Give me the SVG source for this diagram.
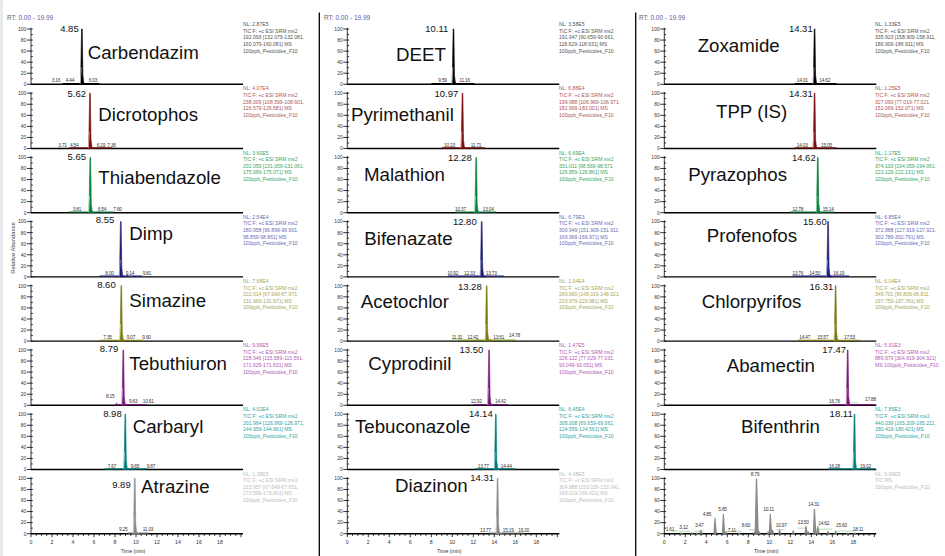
<svg xmlns="http://www.w3.org/2000/svg" xmlns:xlink="http://www.w3.org/1999/xlink" width="945" height="556" viewBox="0 0 945 556">
<style>
text{font-family:"Liberation Sans",Arial,Helvetica,sans-serif}
.ax{stroke:#000;stroke-width:0.8;fill:none}
.base{stroke:#000;stroke-width:1.4;fill:none}
.yl{font-size:5px;fill:#333;text-anchor:end}
.xl{font-size:5.2px;fill:#333;text-anchor:middle}
.nm{font-size:18.7px;fill:#111}
.pl{font-size:9.5px;fill:#111;text-anchor:end}
.sl{font-size:4.8px;fill:#333;letter-spacing:-0.2px}
.nl{font-size:5.1px}
.rt{font-size:6.5px;fill:#666}
.rt tspan{fill:#5a5aa8}
.tr{fill:none;stroke-width:1.2}
.pk{stroke-width:0.6;stroke-linejoin:round}
.pkh{fill:none;stroke-width:0.8}
.ig{stroke:#8fd08f;stroke-width:0.7;fill:none}
.sep{stroke:#000;stroke-width:1.3}
.r1 .pk,.r1 .bp{fill:#000;stroke:#000}.r1 .tr{stroke:#000}.r1 .pkh{stroke:#bdbdbd}.r1 .nl{fill:#555}
.r2 .pk,.r2 .bp{fill:#7a0e0e;stroke:#7a0e0e}.r2 .tr{stroke:#7a0e0e}.r2 .pkh{stroke:#dca3a3}.r2 .nl{fill:#b05656}
.r3 .pk,.r3 .bp{fill:#05803c;stroke:#05803c}.r3 .tr{stroke:#05803c}.r3 .pkh{stroke:#9fd6b1}.r3 .nl{fill:#3aa564}
.r4 .pk,.r4 .bp{fill:#1e1e78;stroke:#1e1e78}.r4 .tr{stroke:#1e1e78}.r4 .pkh{stroke:#a7a7d6}.r4 .nl{fill:#6b6bb8}
.r5 .pk,.r5 .bp{fill:#7b7912;stroke:#7b7912}.r5 .tr{stroke:#7b7912}.r5 .pkh{stroke:#d2d09a}.r5 .nl{fill:#a9a758}
.r6 .pk,.r6 .bp{fill:#7b1a7b;stroke:#7b1a7b}.r6 .tr{stroke:#7b1a7b}.r6 .pkh{stroke:#d7a2d7}.r6 .nl{fill:#b557b5}
.r7 .pk,.r7 .bp{fill:#007d7a;stroke:#007d7a}.r7 .tr{stroke:#007d7a}.r7 .pkh{stroke:#94d1cf}.r7 .nl{fill:#35a3a3}
.r8 .pk,.r8 .bp{fill:#8a8a8a;stroke:#8a8a8a}.r8 .tr{stroke:#8a8a8a}.r8 .pkh{stroke:#d0d0d0}.r8 .nl{fill:#bcbcbc}
.bp{stroke-width:0.4}
</style>
<defs>
<g id="yax">
<path class="ax" d="M0,-56.5V0M-4,0H1.8M-4,-11.06H1.8M-4,-22.12H1.8M-4,-33.18H1.8M-4,-44.24H1.8M-4,-55.3H1.8M0,-5.53h1.8M0,-16.59h1.8M0,-27.65h1.8M0,-38.71h1.8M0,-49.77h1.8"/>
<text class="yl" x="-4.6" y="1.8">0</text>
<text class="yl" x="-4.6" y="-9.3">20</text>
<text class="yl" x="-4.6" y="-20.3">40</text>
<text class="yl" x="-4.6" y="-31.4">60</text>
<text class="yl" x="-4.6" y="-42.4">80</text>
<text class="yl" x="-4.6" y="-53.5">100</text>
</g>
<g id="xax">
<path class="ax" d="M0,0v3.5M21,0v3.5M42,0v3.5M63,0v3.5M84,0v3.5M105,0v3.5M126,0v3.5M147,0v3.5M168,0v3.5M189,0v3.5M210,0v3.5M5.25,0v2.2M10.5,0v2.2M15.75,0v2.2M26.25,0v2.2M31.5,0v2.2M36.75,0v2.2M47.25,0v2.2M52.5,0v2.2M57.75,0v2.2M68.25,0v2.2M73.5,0v2.2M78.75,0v2.2M89.25,0v2.2M94.5,0v2.2M99.75,0v2.2M110.25,0v2.2M115.5,0v2.2M120.75,0v2.2M131.25,0v2.2M136.5,0v2.2M141.75,0v2.2M152.25,0v2.2M157.5,0v2.2M162.75,0v2.2M173.25,0v2.2M178.5,0v2.2M183.75,0v2.2M194.25,0v2.2M199.5,0v2.2M204.75,0v2.2"/>
<text class="xl" x="0" y="10.8">0</text><text class="xl" x="21" y="10.8">2</text><text class="xl" x="42" y="10.8">4</text><text class="xl" x="63" y="10.8">6</text><text class="xl" x="84" y="10.8">8</text><text class="xl" x="105" y="10.8">10</text><text class="xl" x="126" y="10.8">12</text><text class="xl" x="147" y="10.8">14</text><text class="xl" x="168" y="10.8">16</text><text class="xl" x="189" y="10.8">18</text>
<text class="xl" x="102" y="19.4">Time (min)</text>
</g>
<path id="pk" d="M-1.3,0L-0.35,-55.3L0.35,-55.3L1,-9L1.8,-2L3,-0.4L4,0Z"/>
<path id="pkh" d="M-1.7,-0.5L-0.7,-17"/>
</defs>

<rect x="0" y="0" width="3" height="556" fill="#e8eaee"/>
<g id="separators">
<line class="sep" x1="319.3" y1="12.5" x2="319.3" y2="556"/>
<line class="sep" x1="635.7" y1="12.5" x2="635.7" y2="556"/>
</g>
<text class="rt" x="7" y="19.5">RT: <tspan>0.00 - 19.99</tspan></text>
<text class="rt" x="324" y="19.5">RT: <tspan>0.00 - 19.99</tspan></text>
<text class="rt" x="639" y="19.5">RT: <tspan>0.00 - 19.99</tspan></text>
<text transform="translate(14.5,248) rotate(-90)" text-anchor="middle" font-size="5.8" fill="#444">Relative Abundance</text>

<!-- Column 1 -->
<g id="carbendazim" class="r1" transform="translate(31,84.3)">
<use href="#yax"/><path class="base" d="M0,0H212"/><path class="tr" d="M31.5,-0.7H68.3"/>
<use class="pk" href="#pk" x="50.9"/><use class="pkh" href="#pkh" x="50.9"/>
<text class="pl" x="47.7" y="-52">4.85</text><text class="nm" x="56.7" y="-25">Carbendazim</text>
<text class="sl" y="-2"><tspan x="20.7">3.16</tspan><tspan x="34.7">4.44</tspan><tspan x="57.7">6.03</tspan></text>
<text class="nl" y="-58.2"><tspan x="212">NL: 2.87E5</tspan><tspan x="212" dy="6.6">TIC F: +c ESI SRM ms2</tspan><tspan x="212" dy="6.6">192.093 [132.079-132.081,</tspan><tspan x="212" dy="6.6">160.079-160.081] MS</tspan><tspan x="212" dy="6.6">100ppb_Pesticides_F10</tspan></text>
</g>
<g id="dicrotophos" class="r2" transform="translate(31,148.5)">
<use href="#yax"/><path class="base" d="M0,0H212"/><path class="tr" d="M37.8,-0.7H80.9"/>
<use class="pk" href="#pk" x="59"/><use class="pkh" href="#pkh" x="59"/>
<text class="pl" x="55" y="-52">5.62</text><text class="nm" x="67.3" y="-27.8">Dicrotophos</text>
<text class="sl" y="-2"><tspan x="27.3">3.71</tspan><tspan x="39">4.54</tspan><tspan x="65.7">6.19</tspan><tspan x="76.3">7.36</tspan></text>
<text class="nl" y="-58.2"><tspan x="212">NL: 4.07E4</tspan><tspan x="212" dy="6.6">TIC F: +c ESI SRM ms2</tspan><tspan x="212" dy="6.6">238.009 [108.599-108.601,</tspan><tspan x="212" dy="6.6">126.579-126.581] MS</tspan><tspan x="212" dy="6.6">100ppb_Pesticides_F10</tspan></text>
</g>
<g id="thiabendazole" class="r3" transform="translate(31,212.7)">
<use href="#yax"/><path class="base" d="M0,0H212"/><path class="tr" d="M37.8,-0.7H83"/>
<use class="pk" href="#pk" x="59.3"/><use class="pkh" href="#pkh" x="59.3"/>
<text class="pl" x="55" y="-53">5.65</text><text class="nm" x="67.3" y="-28.4">Thiabendazole</text>
<text class="sl" y="-2"><tspan x="41.7">3.81</tspan><tspan x="66.7">6.54</tspan><tspan x="82.3">7.60</tspan></text>
<text class="nl" y="-58.2"><tspan x="212">NL: 3.60E5</tspan><tspan x="212" dy="6.6">TIC F: +c ESI SRM ms2</tspan><tspan x="212" dy="6.6">202.059 [131.059-131.061,</tspan><tspan x="212" dy="6.6">175.069-175.071] MS</tspan><tspan x="212" dy="6.6">100ppb_Pesticides_F10</tspan></text>
</g>
<g id="dimp" class="r4" transform="translate(31,276.9)">
<use href="#yax"/><path class="base" d="M0,0H212"/><path class="tr" d="M68.3,-0.7H111.3"/>
<use class="pk" href="#pk" x="89.8"/><use class="pkh" href="#pkh" x="89.8"/>
<path class="bp" d="M95,0L96,-2.2L97,0ZM102,0L103,-1.2L104,0Z"/>
<text class="pl" x="83.3" y="-53.5">8.55</text><text class="nm" x="98.3" y="-36.9">Dimp</text>
<text class="sl" y="-2"><tspan x="74.3">8.00</tspan><tspan x="94.7">9.14</tspan><tspan x="111.7">9.81</tspan></text>
<text class="nl" y="-58.2"><tspan x="212">NL: 2.54E4</tspan><tspan x="212" dy="6.6">TIC F: +c ESI SRM ms2</tspan><tspan x="212" dy="6.6">180.958 [96.899-96.901,</tspan><tspan x="212" dy="6.6">98.859-98.861] MS</tspan><tspan x="212" dy="6.6">100ppb_Pesticides_F10</tspan></text>
</g>
<g id="simazine" class="r5" transform="translate(31,341.1)">
<use href="#yax"/><path class="base" d="M0,0H212"/><path class="tr" d="M69.3,-0.7H112.4"/>
<use class="pk" href="#pk" x="90.3"/><use class="pkh" href="#pkh" x="90.3"/>
<text class="pl" x="84.7" y="-52.8">8.60</text><text class="nm" x="98.3" y="-34.4">Simazine</text>
<text class="sl" y="-2"><tspan x="72.3">7.35</tspan><tspan x="95.7">9.07</tspan><tspan x="111.3">9.60</tspan></text>
<text class="nl" y="-58.2"><tspan x="212">NL: 7.68E4</tspan><tspan x="212" dy="6.6">TIC F: +c ESI SRM ms2</tspan><tspan x="212" dy="6.6">202.014 [67.969-67.971,</tspan><tspan x="212" dy="6.6">131.969-131.971] MS</tspan><tspan x="212" dy="6.6">100ppb_Pesticides_F10</tspan></text>
</g>
<g id="tebuthiuron" class="r6" transform="translate(31,405.3)">
<use href="#yax"/><path class="base" d="M0,0H212"/><path class="tr" d="M84,-0.7H115.5"/>
<path class="bp" d="M84.6,0L85.6,-2.5L86.6,0Z"/>
<use class="pk" href="#pk" x="92.3"/><use class="pkh" href="#pkh" x="92.3"/>
<text class="pl" x="87.3" y="-53.5">8.79</text><text class="nm" x="98.3" y="-35.3">Tebuthiuron</text>
<text class="sl"><tspan x="75" y="-7">8.15</tspan><tspan x="98" y="-2">9.63</tspan><tspan x="111.7" y="-2">10.61</tspan></text>
<text class="nl" y="-58.2"><tspan x="212">NL: 9.96E5</tspan><tspan x="212" dy="6.6">TIC F: +c ESI SRM ms2</tspan><tspan x="212" dy="6.6">228.946 [115.589-115.591,</tspan><tspan x="212" dy="6.6">171.629-171.631] MS</tspan><tspan x="212" dy="6.6">100ppb_Pesticides_F10</tspan></text>
</g>
<g id="carbaryl" class="r7" transform="translate(31,469.5)">
<use href="#yax"/><path class="base" d="M0,0H212"/><path class="tr" d="M73.5,-0.7H116.6"/>
<use class="pk" href="#pk" x="94.3"/><use class="pkh" href="#pkh" x="94.3"/>
<path class="bp" d="M100.3,0L101.3,-1.5L102.3,0Z"/>
<text class="pl" x="90.7" y="-52.5">8.98</text><text class="nm" x="101.7" y="-36.8">Carbaryl</text>
<text class="sl" y="-2"><tspan x="76.7">7.67</tspan><tspan x="99.7">9.65</tspan><tspan x="115.7">9.87</tspan></text>
<text class="nl" y="-58.2"><tspan x="212">NL: 4.02E4</tspan><tspan x="212" dy="6.6">TIC F: +c ESI SRM ms2</tspan><tspan x="212" dy="6.6">201.964 [126.969-126.971,</tspan><tspan x="212" dy="6.6">144.959-144.961] MS</tspan><tspan x="212" dy="6.6">100ppb_Pesticides_F10</tspan></text>
</g>
<g id="atrazine" class="r8" transform="translate(31,533.7)">
<use href="#yax"/><use href="#xax"/><path class="base" d="M0,0H212"/><path class="tr" d="M96.6,-0.7H117.6"/>
<use class="pk" href="#pk" x="103.8"/><use class="pkh" href="#pkh" x="103.8"/>
<text class="pl" x="99.7" y="-45.4">9.89</text><text class="nm" x="110" y="-40.4">Atrazine</text>
<text class="sl" y="-2.5"><tspan x="88">9.25</tspan><tspan x="111.7">11.03</tspan></text>
<text class="nl" y="-58.2"><tspan x="212">NL: 1.38E5</tspan><tspan x="212" dy="6.6">TIC F: +c ESI SRM ms2</tspan><tspan x="212" dy="6.6">215.957 [67.649-67.651,</tspan><tspan x="212" dy="6.6">173.599-173.601] MS</tspan><tspan x="212" dy="6.6">100ppb_Pesticides_F10</tspan></text>
</g>

<!-- Column 2 -->
<g id="deet" class="r1" transform="translate(347.3,84.3)">
<use href="#yax"/><path class="base" d="M0,0H212"/><path class="tr" d="M84,-0.7H127"/>
<use class="pk" href="#pk" x="106.2"/><use class="pkh" href="#pkh" x="106.2"/>
<text class="pl" x="101" y="-52">10.11</text><text class="nm" x="48.7" y="-23.3">DEET</text>
<text class="sl" y="-2"><tspan x="91">9.59</tspan><tspan x="112">11.16</tspan></text>
<text class="nl" y="-58.2"><tspan x="211.7">NL: 3.58E5</tspan><tspan x="211.7" dy="6.6">TIC F: +c ESI SRM ms2</tspan><tspan x="211.7" dy="6.6">191.947 [90.659-90.661,</tspan><tspan x="211.7" dy="6.6">118.629-118.631] MS</tspan><tspan x="211.7" dy="6.6">100ppb_Pesticides_F10</tspan></text>
</g>
<g id="pyrimethanil" class="r2" transform="translate(347.3,148.5)">
<use href="#yax"/><path class="base" d="M0,0H212"/><path class="tr" d="M94.5,-0.7H137.6"/>
<use class="pk" href="#pk" x="115.2"/><use class="pkh" href="#pkh" x="115.2"/>
<text class="pl" x="111" y="-51.8">10.97</text><text class="nm" x="3.7" y="-27.8">Pyrimethanil</text>
<text class="sl" y="-2"><tspan x="96.7">10.23</tspan><tspan x="123.4">11.71</tspan></text>
<text class="nl" y="-58.2"><tspan x="211.7">NL: 6.88E4</tspan><tspan x="211.7" dy="6.6">TIC F: +c ESI SRM ms2</tspan><tspan x="211.7" dy="6.6">199.988 [106.969-106.971,</tspan><tspan x="211.7" dy="6.6">182.999-183.001] MS</tspan><tspan x="211.7" dy="6.6">100ppb_Pesticides_F10</tspan></text>
</g>
<g id="malathion" class="r3" transform="translate(347.3,212.7)">
<use href="#yax"/><path class="base" d="M0,0H212"/><path class="tr" d="M108.2,-0.7H149.1"/>
<use class="pk" href="#pk" x="128.9"/><use class="pkh" href="#pkh" x="128.9"/>
<text class="pl" x="124.4" y="-51.4">12.28</text><text class="nm" x="16.7" y="-31.7">Malathion</text>
<text class="sl" y="-2"><tspan x="107.7">10.37</tspan><tspan x="135.4">13.04</tspan></text>
<text class="nl" y="-58.2"><tspan x="211.7">NL: 6.69E4</tspan><tspan x="211.7" dy="6.6">TIC F: +c ESI SRM ms2</tspan><tspan x="211.7" dy="6.6">331.011 [98.569-98.571,</tspan><tspan x="211.7" dy="6.6">126.859-126.861] MS</tspan><tspan x="211.7" dy="6.6">100ppb_Pesticides_F10</tspan></text>
</g>
<g id="bifenazate" class="r4" transform="translate(347.3,276.9)">
<use href="#yax"/><path class="base" d="M0,0H212"/><path class="tr" d="M100.8,-0.7H156.5"/>
<use class="pk" href="#pk" x="134.4"/><use class="pkh" href="#pkh" x="134.4"/>
<path class="bp" d="M128.5,0L129.5,-1.2L130.5,0Z"/>
<text class="pl" x="129.4" y="-51.9">12.80</text><text class="nm" x="17" y="-31.9">Bifenazate</text>
<text class="sl" y="-2"><tspan x="100">10.92</tspan><tspan x="116.7">12.33</tspan><tspan x="138.4">13.73</tspan></text>
<text class="nl" y="-58.2"><tspan x="211.7">NL: 6.79E3</tspan><tspan x="211.7" dy="6.6">TIC F: +c ESI SRM ms2</tspan><tspan x="211.7" dy="6.6">300.949 [151.909-151.911,</tspan><tspan x="211.7" dy="6.6">169.969-169.971] MS</tspan><tspan x="211.7" dy="6.6">100ppb_Pesticides_F10</tspan></text>
</g>
<g id="acetochlor" class="r5" transform="translate(347.3,341.1)">
<use href="#yax"/><path class="base" d="M0,0H212"/><path class="tr" d="M110.3,-0.7H168"/>
<path class="ig" d="M104,-1.4H126M128,-1.4H137M146,-1.4H168"/>
<path class="bp" d="M129.4,0L130.4,-2.2L131.4,0ZM141.9,0L142.9,-2.4L143.9,0ZM145.5,0L146.5,-1.4L147.5,0Z"/>
<use class="pk" href="#pk" x="139.4"/><use class="pkh" href="#pkh" x="139.4"/>
<text class="pl" x="134.4" y="-51.1">13.28</text><text class="nm" x="13.4" y="-32.8">Acetochlor</text>
<text class="sl"><tspan x="104.4" y="-2.5">11.31</tspan><tspan x="120" y="-2.5">12.42</tspan><tspan x="146" y="-2.5">13.61</tspan><tspan x="161.7" y="-4">14.78</tspan></text>
<text class="nl" y="-58.2"><tspan x="211.7">NL: 1.04E4</tspan><tspan x="211.7" dy="6.6">TIC F: +c ESI SRM ms2</tspan><tspan x="211.7" dy="6.6">269.960 [148.019-148.021,</tspan><tspan x="211.7" dy="6.6">223.979-223.981] MS</tspan><tspan x="211.7" dy="6.6">100ppb_Pesticides_F10</tspan></text>
</g>
<g id="cyprodinil" class="r6" transform="translate(347.3,405.3)">
<use href="#yax"/><path class="base" d="M0,0H212"/><path class="tr" d="M126,-0.7H160.7"/>
<use class="pk" href="#pk" x="141.8"/><use class="pkh" href="#pkh" x="141.8"/>
<text class="pl" x="136" y="-52">13.50</text><text class="nm" x="21" y="-35.3">Cyprodinil</text>
<text class="sl" y="-2"><tspan x="123.4">12.92</tspan><tspan x="147.7">14.42</tspan></text>
<text class="nl" y="-58.2"><tspan x="211.7">NL: 1.47E5</tspan><tspan x="211.7" dy="6.6">TIC F: +c ESI SRM ms2</tspan><tspan x="211.7" dy="6.6">226.122 [77.029-77.031,</tspan><tspan x="211.7" dy="6.6">93.049-93.051] MS</tspan><tspan x="211.7" dy="6.6">100ppb_Pesticides_F10</tspan></text>
</g>
<g id="tebuconazole" class="r7" transform="translate(347.3,469.5)">
<use href="#yax"/><path class="base" d="M0,0H212"/><path class="tr" d="M128.1,-0.7H168"/>
<use class="pk" href="#pk" x="148.5"/><use class="pkh" href="#pkh" x="148.5"/>
<text class="pl" x="145.4" y="-52.2">14.14</text><text class="nm" x="7.7" y="-36.2">Tebuconazole</text>
<text class="sl" y="-2"><tspan x="130.4">13.77</tspan><tspan x="153.4">14.44</tspan></text>
<text class="nl" y="-58.2"><tspan x="211.7">NL: 6.45E4</tspan><tspan x="211.7" dy="6.6">TIC F: +c ESI SRM ms2</tspan><tspan x="211.7" dy="6.6">308.008 [69.659-69.661,</tspan><tspan x="211.7" dy="6.6">124.559-124.561] MS</tspan><tspan x="211.7" dy="6.6">100ppb_Pesticides_F10</tspan></text>
</g>
<g id="diazinon" class="r8" transform="translate(347.3,533.7)">
<use href="#yax"/><use href="#xax"/><path class="base" d="M0,0H212"/><path class="tr" d="M141.8,-0.7H176.4"/>
<use class="pk" href="#pk" x="150.3"/><use class="pkh" href="#pkh" x="150.3"/>
<text class="pl" x="146.7" y="-52.7">14.31</text><text class="nm" x="47.7" y="-42">Diazinon</text>
<text class="sl" y="-2"><tspan x="132.7">13.77</tspan><tspan x="155.4">15.19</tspan><tspan x="171">16.20</tspan></text>
<text class="nl" y="-58.2"><tspan x="211.7">NL: 4.48E5</tspan><tspan x="211.7" dy="6.6">TIC F: +c ESI SRM ms2</tspan><tspan x="211.7" dy="6.6">304.988 [153.039-153.041,</tspan><tspan x="211.7" dy="6.6">169.019-169.021] MS</tspan><tspan x="211.7" dy="6.6">100ppb_Pesticides_F10</tspan></text>
</g>

<!-- Column 3 -->
<g id="zoxamide" class="r1" transform="translate(664.3,84.3)">
<use href="#yax"/><path class="base" d="M0,0H212"/><path class="tr" d="M130.2,-0.7H172.2"/>
<use class="pk" href="#pk" x="150.3"/><use class="pkh" href="#pkh" x="150.3"/>
<text class="pl" x="148.4" y="-52">14.31</text><text class="nm" x="33.4" y="-32">Zoxamide</text>
<text class="sl" y="-2"><tspan x="132.4">14.01</tspan><tspan x="155">14.62</tspan></text>
<text class="nl" y="-58.2"><tspan x="210.7">NL: 1.33E5</tspan><tspan x="210.7" dy="6.6">TIC F: +c ESI SRM ms2</tspan><tspan x="210.7" dy="6.6">335.923 [158.909-158.911,</tspan><tspan x="210.7" dy="6.6">186.909-186.911] MS</tspan><tspan x="210.7" dy="6.6">100ppb_Pesticides_F10</tspan></text>
</g>
<g id="tpp-is" class="r2" transform="translate(664.3,148.5)">
<use href="#yax"/><path class="base" d="M0,0H212"/><path class="tr" d="M130.2,-0.7H172.2"/>
<use class="pk" href="#pk" x="150.3"/><use class="pkh" href="#pkh" x="150.3"/>
<text class="pl" x="148.4" y="-51.8">14.31</text><text class="nm" x="51.7" y="-30.2">TPP (IS)</text>
<text class="sl" y="-2"><tspan x="132.4">14.03</tspan><tspan x="156.7">15.05</tspan></text>
<text class="nl" y="-58.2"><tspan x="210.7">NL: 1.25E5</tspan><tspan x="210.7" dy="6.6">TIC F: +c ESI SRM ms2</tspan><tspan x="210.7" dy="6.6">327.093 [77.019-77.021,</tspan><tspan x="210.7" dy="6.6">152.069-152.071] MS</tspan><tspan x="210.7" dy="6.6">100ppb_Pesticides_F10</tspan></text>
</g>
<g id="pyrazophos" class="r3" transform="translate(664.3,212.7)">
<use href="#yax"/><path class="base" d="M0,0H212"/><path class="tr" d="M126,-0.7H170.1"/>
<use class="pk" href="#pk" x="153.5"/><use class="pkh" href="#pkh" x="153.5"/>
<text class="pl" x="151.4" y="-51.4">14.62</text><text class="nm" x="24" y="-31.7">Pyrazophos</text>
<text class="sl" y="-2"><tspan x="128">12.78</tspan><tspan x="158.4">15.14</tspan></text>
<text class="nl" y="-58.2"><tspan x="210.7">NL: 1.17E5</tspan><tspan x="210.7" dy="6.6">TIC F: +c ESI SRM ms2</tspan><tspan x="210.7" dy="6.6">374.103 [194.059-194.061,</tspan><tspan x="210.7" dy="6.6">222.129-222.131] MS</tspan><tspan x="210.7" dy="6.6">100ppb_Pesticides_F10</tspan></text>
</g>
<g id="profenofos" class="r4" transform="translate(664.3,276.9)">
<use href="#yax"/><path class="base" d="M0,0H212"/><path class="tr" d="M128.1,-0.7H184.8"/>
<use class="pk" href="#pk" x="163.8"/><use class="pkh" href="#pkh" x="163.8"/>
<text class="pl" x="162.4" y="-51.9">15.60</text><text class="nm" x="42.4" y="-34.6">Profenofos</text>
<text class="sl" y="-2"><tspan x="128">13.76</tspan><tspan x="145">14.50</tspan><tspan x="169">16.19</tspan></text>
<text class="nl" y="-58.2"><tspan x="210.7">NL: 6.85E4</tspan><tspan x="210.7" dy="6.6">TIC F: +c ESI SRM ms2</tspan><tspan x="210.7" dy="6.6">372.888 [127.919-127.921,</tspan><tspan x="210.7" dy="6.6">302.789-302.791] MS</tspan><tspan x="210.7" dy="6.6">100ppb_Pesticides_F10</tspan></text>
</g>
<g id="chlorpyrifos" class="r5" transform="translate(664.3,341.1)">
<use href="#yax"/><path class="base" d="M0,0H212"/><path class="tr" d="M133.4,-0.7H195.3"/>
<use class="pk" href="#pk" x="171.3"/><use class="pkh" href="#pkh" x="171.3"/>
<text class="pl" x="169" y="-51.1">16.31</text><text class="nm" x="37.4" y="-33.4">Chlorpyrifos</text>
<text class="sl" y="-2"><tspan x="135">14.47</tspan><tspan x="153">15.57</tspan><tspan x="179.7">17.53</tspan></text>
<text class="nl" y="-58.2"><tspan x="210.7">NL: 6.04E4</tspan><tspan x="210.7" dy="6.6">TIC F: +c ESI SRM ms2</tspan><tspan x="210.7" dy="6.6">349.701 [96.809-96.811,</tspan><tspan x="210.7" dy="6.6">197.759-197.761] MS</tspan><tspan x="210.7" dy="6.6">100ppb_Pesticides_F10</tspan></text>
</g>
<g id="abamectin" class="r6" transform="translate(664.3,405.3)">
<use href="#yax"/><path class="base" d="M0,0H212"/><path class="tr" d="M167,-0.7H211"/>
<use class="pk" href="#pk" x="183.4"/><use class="pkh" href="#pkh" x="183.4"/>
<path class="ig" d="M186,-2.5H193"/>
<text class="pl" x="181.7" y="-52">17.47</text><text class="nm" x="62.4" y="-33.3">Abamectin</text>
<text class="sl"><tspan x="164.7" y="-2">16.76</tspan><tspan x="200.7" y="-4.5">17.88</tspan></text>
<text class="nl" y="-58.2"><tspan x="210.7">NL: 5.31E3</tspan><tspan x="210.7" dy="6.6">TIC F: +c ESI SRM ms2</tspan><tspan x="210.7" dy="6.6">889.979 [304.919-304.921]</tspan><tspan x="210.7" dy="6.6">MS 100ppb_Pesticides_F10</tspan></text>
</g>
<g id="bifenthrin" class="r7" transform="translate(664.3,469.5)">
<use href="#yax"/><path class="base" d="M0,0H212"/><path class="tr" d="M163.8,-0.7H211"/>
<use class="pk" href="#pk" x="190.2"/><use class="pkh" href="#pkh" x="190.2"/>
<text class="pl" x="188.4" y="-52.2">18.11</text><text class="nm" x="76.7" y="-36.8">Bifenthrin</text>
<text class="sl" y="-2"><tspan x="164.7">16.28</tspan><tspan x="195.7">19.02</tspan></text>
<text class="nl" y="-58.2"><tspan x="210.7">NL: 7.85E3</tspan><tspan x="210.7" dy="6.6">TIC F: +c ESI SRM ms2</tspan><tspan x="210.7" dy="6.6">440.039 [165.209-165.211,</tspan><tspan x="210.7" dy="6.6">180.419-180.421] MS</tspan><tspan x="210.7" dy="6.6">100ppb_Pesticides_F10</tspan></text>
</g>
<g id="tic-ms" class="r8" transform="translate(664.3,533.7)">
<use href="#yax"/><use href="#xax"/><path class="base" d="M0,0H212"/>
<path class="ig" d="M8,-2.6H26M30,-2.6H40M62,-2.6H78M84,-4H92M112,-4H120M133,-5.5H142M152,-4.5H168M170,-2.6H190"/>
<path fill="#8a8a8a" d="M15.4,0L16.4,-1.1L17.4,-1.1L18.6,0ZM25.8,0L26.8,-1.4L27.8,-1.4L29,0ZM31.3,0L32.3,-1.1L33.3,-1.1L34.5,0ZM34.9,0L35.9,-3.9L36.9,-3.9L38.1,0ZM49.1,0L50.2,-16L51.2,-16L52.6,0ZM57.5,0L58.6,-19.9L59.6,-19.9L61,0ZM60.5,0L61.5,-2.2L62.5,-2.2L63.6,0ZM73.2,0L74.2,-1.1L75.2,-1.1L76.4,0ZM88.8,0L89.8,-2.2L90.8,-2.2L92,0ZM90.3,0L91.6,-55.3L92.8,-55.3L94.5,0ZM93,0L94,-2.8L95,-2.8L96.2,0ZM102.3,0L103.3,-2.2L104.3,-2.2L105.5,0ZM104.4,0L105.5,-19.9L106.5,-19.9L107.9,0ZM106.7,0L107.7,-3.9L108.7,-3.9L109.9,0ZM113.7,0L114.7,-3.9L115.7,-3.9L116.9,0ZM127.4,0L128.4,-3.3L129.4,-3.3L130.6,0ZM140.1,0L141.2,-7.7L142.2,-7.7L143.5,0ZM142.4,0L143.4,-2.2L144.4,-2.2L145.6,0ZM148.5,0L149.6,-24.9L150.7,-24.9L152.1,0ZM151.9,0L153,-7.7L154,-7.7L155.3,0ZM162.3,0L163.3,-2.8L164.3,-2.8L165.5,0ZM169.8,0L170.8,-2.8L171.8,-2.8L173,0ZM181.9,0L182.9,-1.1L183.9,-1.1L185.1,0ZM188.7,0L189.7,-1.1L190.7,-1.1L191.9,0Z"/>
<text class="sl"><tspan x="1.4" y="-2.7">1.61</tspan><tspan x="15" y="-4.7">3.12</tspan><tspan x="30.7" y="-6.7">3.47</tspan><tspan x="38.4" y="-18">4.85</tspan><tspan x="54" y="-22.7">5.65</tspan><tspan x="63.4" y="-2">7.11</tspan><tspan x="77.4" y="-7">8.60</tspan><tspan x="86.4" y="-58">8.79</tspan><tspan x="99" y="-22.4">10.11</tspan><tspan x="111.4" y="-7">10.97</tspan><tspan x="133.4" y="-9.7">13.50</tspan><tspan x="144" y="-27.7">14.31</tspan><tspan x="154" y="-8.7">14.62</tspan><tspan x="171.7" y="-6.4">15.60</tspan><tspan x="188.4" y="-2.7">18.11</tspan></text>
<text class="nl" y="-58.2"><tspan x="210.7">NL: 9.96E5</tspan><tspan x="210.7" dy="6.6">TIC MS</tspan><tspan x="210.7" dy="6.6">100ppb_Pesticides_F10</tspan></text>
</g>
</svg>
